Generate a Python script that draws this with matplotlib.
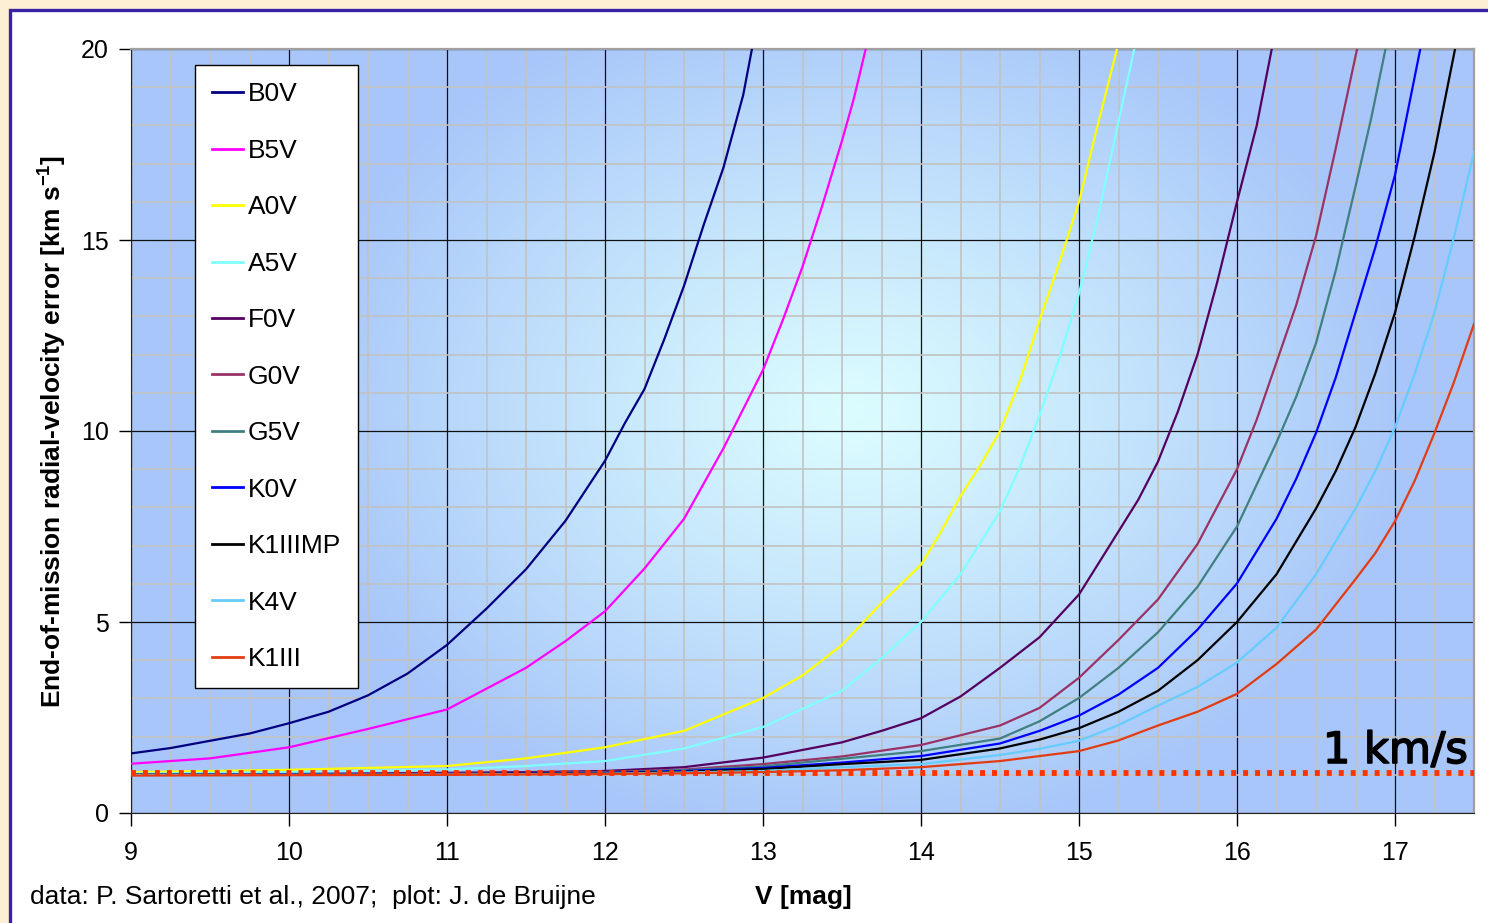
import numpy as np
import matplotlib
matplotlib.use("Agg")
import matplotlib.pyplot as plt
import matplotlib.patheffects as pe
from matplotlib.patches import Rectangle
from matplotlib.ticker import MultipleLocator

plt.rcParams['font.family'] = ['Liberation Sans', 'DejaVu Sans']
plt.rcParams['mathtext.fontset'] = 'custom'
plt.rcParams['mathtext.rm'] = 'Liberation Sans'
plt.rcParams['mathtext.bf'] = 'Liberation Sans:bold'

# ---------------- data ----------------
names = ["B0V", "B5V", "A0V", "A5V", "F0V", "G0V", "G5V", "K0V", "K1IIIMP", "K4V", "K1III"]
colors = ["#000080", "#FF00FF", "#FFFF00", "#80FFFF", "#550060", "#993366",
          "#408080", "#0000FF", "#000000", "#66CCFF", "#E23C12"]

v_B0V = [9, 9.25, 9.5, 9.75, 10, 10.25, 10.5, 10.75, 11, 11.25, 11.5, 11.75, 12, 12.125,
         12.25, 12.375, 12.5, 12.625, 12.75, 12.875, 12.93]
e_B0V = [1.56, 1.7, 1.89, 2.08, 2.35, 2.65, 3.08, 3.65, 4.40, 5.35, 6.38, 7.65, 9.22, 10.2,
         11.1, 12.4, 13.8, 15.4, 16.9, 18.8, 20]

v_B5V = [9, 9.5, 10, 10.5, 11, 11.5, 11.75, 12, 12.25, 12.5, 12.75, 13, 13.125, 13.25,
         13.375, 13.5, 13.575, 13.65]
e_B5V = [1.29, 1.43, 1.72, 2.2, 2.71, 3.8, 4.5, 5.28, 6.4, 7.7, 9.55, 11.6, 12.9, 14.3,
         15.9, 17.6, 18.7, 20]

v_A0V = [9, 10, 11, 11.5, 12, 12.5, 13, 13.25, 13.5, 13.75, 14, 14.125, 14.25, 14.375, 14.5,
         14.625, 14.75, 14.875, 15, 15.1, 15.24]
e_A0V = [1.07, 1.13, 1.23, 1.43, 1.72, 2.15, 3.01, 3.6, 4.4, 5.5, 6.5, 7.35, 8.3, 9.1, 10.0,
         11.3, 12.9, 14.4, 16.0, 17.7, 20]

v_A5V = [9, 10, 11, 11.5, 12, 12.5, 13, 13.5, 13.75, 14, 14.25, 14.5, 14.625, 14.75,
         14.875, 15, 15.125, 15.25, 15.35]
e_A5V = [1.03, 1.07, 1.14, 1.23, 1.36, 1.69, 2.25, 3.2, 4.05, 5.0, 6.25, 7.9, 9.05, 10.4,
         11.9, 13.6, 15.7, 18.1, 20]

v_F0V = [9, 10, 11, 11.5, 12, 12.5, 13, 13.25, 13.5, 13.75, 14, 14.25, 14.5, 14.75, 15,
         15.25, 15.375, 15.5, 15.625, 15.75, 15.875, 16, 16.125, 16.22]
e_F0V = [1.01, 1.02, 1.05, 1.07, 1.1, 1.2, 1.45, 1.65, 1.85, 2.15, 2.48, 3.05, 3.8, 4.6, 5.72,
         7.37, 8.2, 9.2, 10.5, 12.0, 13.9, 16.0, 18.0, 20]

v_G0V = [9, 10, 11, 12, 12.5, 13, 13.5, 14, 14.5, 14.75, 15, 15.25, 15.5, 15.75, 16, 16.125,
         16.25, 16.375, 16.5, 16.625, 16.76]
e_G0V = [1.01, 1.01, 1.03, 1.07, 1.14, 1.28, 1.48, 1.78, 2.29, 2.75, 3.54, 4.53, 5.59, 7.04,
         9.0, 10.3, 11.8, 13.3, 15.1, 17.4, 20]

v_G5V = [9, 10, 11, 12, 12.5, 13, 13.5, 14, 14.5, 14.75, 15, 15.25, 15.5, 15.75, 16, 16.25,
         16.375, 16.5, 16.625, 16.75, 16.85, 16.94]
e_G5V = [1.01, 1.01, 1.02, 1.06, 1.12, 1.22, 1.42, 1.62, 1.95, 2.4, 3.01, 3.8, 4.73, 5.92,
         7.5, 9.7, 10.9, 12.3, 14.2, 16.4, 18.2, 20]

v_K0V = [9, 10, 11, 12, 12.5, 13, 13.5, 14, 14.5, 14.75, 15, 15.25, 15.5, 15.75, 16, 16.25,
         16.375, 16.5, 16.625, 16.75, 16.875, 17, 17.16]
e_K0V = [1.0, 1.01, 1.02, 1.05, 1.1, 1.18, 1.32, 1.49, 1.82, 2.15, 2.55, 3.1, 3.8, 4.8, 6.01,
         7.7, 8.75, 9.95, 11.4, 13.1, 14.8, 16.7, 20]

v_K1IIIMP = [9, 10, 11, 12, 12.5, 13, 13.5, 14, 14.5, 14.75, 15, 15.25, 15.5, 15.75, 16, 16.25,
             16.5, 16.625, 16.75, 16.875, 17, 17.125, 17.25, 17.38]
e_K1IIIMP = [1.0, 1.0, 1.02, 1.04, 1.08, 1.15, 1.28, 1.39, 1.69, 1.92, 2.22, 2.65, 3.2, 4.0,
             5.0, 6.25, 7.97, 8.95, 10.1, 11.5, 13.1, 15.1, 17.3, 20]

v_K4V = [9, 10, 11, 12, 12.5, 13, 13.5, 14, 14.5, 14.75, 15, 15.25, 15.5, 15.75, 16, 16.25,
         16.5, 16.75, 16.875, 17, 17.125, 17.25, 17.375, 17.5]
e_K4V = [1.0, 1.0, 1.01, 1.03, 1.06, 1.1, 1.2, 1.28, 1.52, 1.68, 1.89, 2.3, 2.81, 3.3, 3.94,
         4.85, 6.25, 7.97, 8.95, 10.1, 11.5, 13.1, 15.1, 17.3]

v_K1III = [9, 10, 11, 12, 12.5, 13, 13.5, 14, 14.5, 15, 15.25, 15.5, 15.75, 16, 16.25, 16.5,
           16.75, 16.875, 17, 17.125, 17.25, 17.375, 17.5]
e_K1III = [0.98, 0.99, 1.0, 1.02, 1.04, 1.07, 1.12, 1.2, 1.36, 1.62, 1.9, 2.29, 2.65, 3.12,
           3.9, 4.8, 6.12, 6.8, 7.64, 8.7, 9.95, 11.3, 12.8]

series_v = [v_B0V, v_B5V, v_A0V, v_A5V, v_F0V, v_G0V, v_G5V, v_K0V, v_K1IIIMP, v_K4V, v_K1III]
series_e = [e_B0V, e_B5V, e_A0V, e_A5V, e_F0V, e_G0V, e_G5V, e_K0V, e_K1IIIMP, e_K4V, e_K1III]

threshold = 1.05
threshold_label = "1 km/s"
xticks = [9, 10, 11, 12, 13, 14, 15, 16, 17]
yticks = [0, 5, 10, 15, 20]

# ---------------- figure ----------------
W, H = 1488, 923
fig = plt.figure(figsize=(W / 100, H / 100), dpi=100)
fig.patch.set_facecolor("#FCEFD4")

# white panel with blue border (drawn below the axes)
panel = Rectangle((10 / W, -0.05), 1.2, 1 - 10 / H + 0.05, transform=fig.transFigure,
                  facecolor="white", edgecolor="#3B20A8", linewidth=2.4, zorder=-10)
fig.patches.append(panel)

L, R, T, B = 131, 1474, 49, 813
ax = fig.add_axes([L / W, 1 - B / H, (R - L) / W, (B - T) / H])
ax.set_zorder(1)

# radial gradient background
nx, ny = 600, 400
gx = np.linspace(9, 17.5, nx)
gy = np.linspace(0, 20, ny)
GX, GY = np.meshgrid(gx, gy)
px = (GX - 9) * 158.0
py = GY * 38.2
cx, cy = (13.55 - 9) * 158.0, 10.5 * 38.2
d = np.sqrt(((px - cx) / 560.0) ** 2 + ((py - cy) / 430.0) ** 2)
t = np.clip(d, 0, 1) ** 1.1
c0 = np.array([0xDC, 0xFD, 0xFF]) / 255.0
c1 = np.array([0xA8, 0xC6, 0xF9]) / 255.0
img = c0[None, None, :] * (1 - t[..., None]) + c1[None, None, :] * t[..., None]
ax.imshow(img, extent=[9, 17.5, 0, 20], origin="lower", aspect="auto", zorder=0,
          interpolation="bilinear")
ax.set_xlim(9, 17.5)
ax.set_ylim(0, 20)

# grid
ax.xaxis.set_minor_locator(MultipleLocator(0.25))
ax.yaxis.set_minor_locator(MultipleLocator(1))
ax.set_xticks(xticks)
ax.set_yticks(yticks)
ax.grid(which="minor", color="#C2C2C2", linewidth=1.2, zorder=1)
ax.grid(which="major", color="#111111", linewidth=0.9, zorder=1)
ax.set_axisbelow(True)

for name, col, vv, ee in zip(names, colors, series_v, series_e):
    ax.plot(vv, ee, color=col, linewidth=1.6, label=name, zorder=3,
            solid_joinstyle="round")

ax.axhline(threshold, color="#FF3300", linewidth=4.2, linestyle=(0, (0.85, 1.2)), zorder=4)
ax.text(17.46, 1.31, threshold_label, fontsize=31, fontfamily="DejaVu Sans",
        ha="right", va="baseline", zorder=5,
        path_effects=[pe.withStroke(linewidth=1.2, foreground="black")])

# spines and ticks
ax.spines["top"].set_color("#A0A0A0")
ax.spines["right"].set_color("#A0A0A0")
ax.spines["top"].set_linewidth(1.6)
ax.spines["right"].set_linewidth(1.6)
ax.spines["left"].set_color("#222222")
ax.spines["bottom"].set_color("#222222")
ax.tick_params(which="minor", length=0)
ax.tick_params(axis="x", which="major", direction="out", length=9, width=1, pad=11, labelsize=18)
ax.tick_params(axis="y", which="major", direction="out", length=9, width=1, pad=7, labelsize=18)

leg = ax.legend(loc="upper left", bbox_to_anchor=((195 - L) / (R - L), (B - 65) / (B - T)),
                borderaxespad=0, fontsize=19, frameon=True, fancybox=False,
                edgecolor="black", framealpha=1, labelspacing=1.23, handlelength=1.15,
                handletextpad=0.18, borderpad=0.66)
leg.get_frame().set_linewidth(1.0)
for lh in leg.get_lines():
    lh.set_linewidth(2.0)

fig.text(52 / W, 1 - 431 / H,
         r"End-of-mission radial-velocity error [km s$^{\mathbf{-1}}$]",
         rotation=90, ha="center", va="center", fontsize=19, fontweight="bold")
fig.text(803 / W, 1 - 897 / H, "V [mag]", ha="center", va="center",
         fontsize=19, fontweight="bold")
fig.text(30 / W, 1 - 897 / H, "data: P. Sartoretti et al., 2007;  plot: J. de Bruijne",
         ha="left", va="center", fontsize=19)

fig.savefig("out.png", dpi=100, facecolor=fig.get_facecolor())
